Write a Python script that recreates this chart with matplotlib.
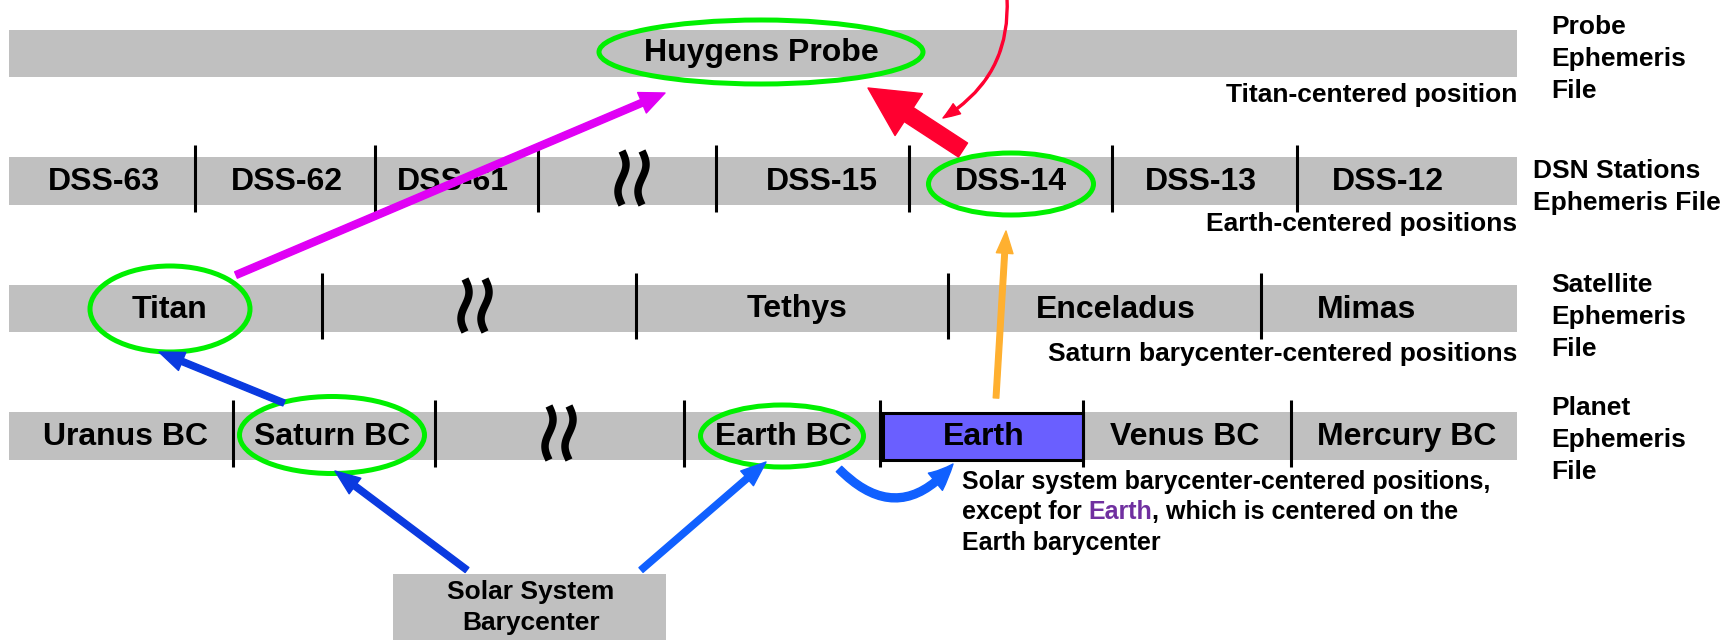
import numpy as np
import matplotlib
matplotlib.use("Agg")
import matplotlib.pyplot as plt
from matplotlib.patches import Rectangle, Ellipse, FancyArrowPatch

# ---------------- data ----------------
bar_top = [30, 157, 285, 412]
bar_bottom = [77, 205, 332, 460]
bar_left = 9
bar_right = 1517

dsn_labels = ["DSS-63", "DSS-62", "DSS-61", "DSS-15", "DSS-14", "DSS-13", "DSS-12"]
dsn_label_x = [104, 287, 453, 822, 1011, 1201, 1388]
dsn_dividers = [195, 375, 538, 716, 909, 1112, 1297]

sat_labels = ["Titan", "Tethys", "Enceladus", "Mimas"]
sat_label_x = [170, 797, 1116, 1367]
sat_dividers = [322, 636, 948, 1261]

planet_labels = ["Uranus BC", "Saturn BC", "Earth BC", "Earth", "Venus BC", "Mercury BC"]
planet_label_x = [126, 332, 783, 984, 1185, 1407]
planet_dividers = [233, 435, 684, 880, 1083, 1291]

wavy_x = [632, 475, 559]
wavy_row = [1, 2, 3]

file_labels = ["Probe\nEphemeris\nFile", "DSN Stations\nEphemeris File",
               "Satellite\nEphemeris\nFile", "Planet\nEphemeris\nFile"]
file_label_x = [1551, 1533, 1551, 1551]
file_label_y = [59, 187, 317, 440]

captions = ["Titan-centered position", "Earth-centered positions",
            "Saturn barycenter-centered positions"]
caption_y = [95, 224, 354]

# highlighted items: (cx, cy, w, h)
ellipse_cx = [761, 1011, 170, 332, 782]
ellipse_cy = [52, 184, 309, 435, 436]
ellipse_w = [324, 165, 160, 185, 163]
ellipse_h = [64, 62, 86, 77, 62]

GRAY = "#c0c0c0"
GREEN = "#00f000"
FONT = "Liberation Sans"

fig = plt.figure(figsize=(17.24, 6.40), dpi=100)
ax = fig.add_axes([0, 0, 1, 1])
ax.set_xlim(0, 1724)
ax.set_ylim(640, 0)
ax.axis("off")

# bars
for t, b in zip(bar_top, bar_bottom):
    ax.add_patch(Rectangle((bar_left, t), bar_right - bar_left, b - t,
                           facecolor=GRAY, edgecolor="none", zorder=1))

def center(i):
    return (bar_top[i] + bar_bottom[i]) / 2

def dividers(xs, i, ext_top=12, ext_bot=7):
    for x in xs:
        ax.plot([x, x], [bar_top[i] - ext_top, bar_bottom[i] + ext_bot], color="black",
                lw=2.2, zorder=3, solid_capstyle="butt")

dividers(dsn_dividers, 1)
dividers(sat_dividers, 2)
dividers(planet_dividers, 3)

# Earth box
ax.add_patch(Rectangle((883, bar_top[3] + 1), 1083 - 883, bar_bottom[3] - bar_top[3] - 1,
                       facecolor="#6a5fff", edgecolor="black", lw=2.2, zorder=2))

lab_kw = dict(ha="center", va="center", fontsize=23, fontweight="bold",
              family=FONT, color="black", zorder=4)
ax.text(761, center(0), "Huygens Probe", **lab_kw)
for s, x in zip(dsn_labels, dsn_label_x):
    ax.text(x, center(1) + 1, s, **lab_kw)
for s, x in zip(sat_labels, sat_label_x):
    ax.text(x, center(2) + 1, s, **lab_kw)
for s, x in zip(planet_labels, planet_label_x):
    ax.text(x, center(3) + 1, s, **lab_kw)

# wavy break symbols
for x, r in zip(wavy_x, wavy_row):
    y = np.linspace(bar_top[r] - 6, bar_bottom[r], 80)
    h = y[-1] - y[0]
    for dx in (-10, 10):
        xx = x + dx + 4.0 * np.sin(2 * np.pi * (y - y[0]) / h)
        ax.plot(xx, y, color="black", lw=5.4, zorder=4, solid_capstyle="butt")

# file labels
for s, x, y in zip(file_labels, file_label_x, file_label_y):
    ax.text(x, y, s, ha="left", va="center", fontsize=19, fontweight="bold",
            family=FONT, linespacing=1.4)

for s, y in zip(captions, caption_y):
    ax.text(bar_right, y, s, ha="right", va="center", fontsize=19,
            fontweight="bold", family=FONT)

# annotation text below planet row
ann_kw = dict(fontsize=18, fontweight="bold", family=FONT)
ax.text(962, 482, "Solar system barycenter-centered positions,", ha="left",
        va="center", **ann_kw)
t1 = ax.text(962, 512, "except for ", ha="left", va="center", **ann_kw)
t2 = ax.annotate("Earth", xy=(1, 0), xycoords=t1, ha="left", va="bottom",
                 color="#7030a0", **ann_kw)
ax.annotate(", which is centered on the", xy=(1, 0), xycoords=t2, ha="left",
            va="bottom", **ann_kw)
ax.text(962, 543, "Earth barycenter", ha="left", va="center", **ann_kw)

# Solar System Barycenter box
ax.add_patch(Rectangle((393, 574), 666 - 393, 70, facecolor=GRAY,
                       edgecolor="none", zorder=1))
ax.text(531, 592, "Solar System", ha="center", va="center", fontsize=19,
        fontweight="bold", family=FONT)
ax.text(531, 623, "Barycenter", ha="center", va="center", fontsize=19,
        fontweight="bold", family=FONT)

# ellipses
for cx, cy, w, h in zip(ellipse_cx, ellipse_cy, ellipse_w, ellipse_h):
    ax.add_patch(Ellipse((cx, cy), w, h, facecolor="none", edgecolor=GREEN,
                         lw=3.6, zorder=5))

def arrow(p0, p1, color, tail, hl, hw, rad=0.0, z=6):
    a = FancyArrowPatch(p0, p1,
                        arrowstyle=f"simple,head_length={hl},head_width={hw},tail_width={tail}",
                        connectionstyle=f"arc3,rad={rad}", color=color,
                        shrinkA=0, shrinkB=0, zorder=z, mutation_scale=1)
    ax.add_patch(a)

arrow((236, 275), (665, 93), "#e000f5", 5, 18, 16)
arrow((963, 150), (868, 88), "#ff0030", 12, 35, 36)
arrow((1007, -2), (943, 118), "#ff0030", 1.4, 12, 9, rad=-0.3)
arrow((996, 398), (1006, 231), "#ffb030", 4, 16, 12)
arrow((284, 403), (159, 352), "#0a3ae0", 4.5, 18, 14)
arrow((467, 570), (335, 471), "#0a3ae0", 4.5, 18, 14)
arrow((641, 570), (766, 462), "#1060ff", 4.5, 18, 14)
arrow((839, 469), (953, 464), "#1060ff", 5.5, 18, 16, rad=0.55)

fig.savefig("out.png", dpi=100)
